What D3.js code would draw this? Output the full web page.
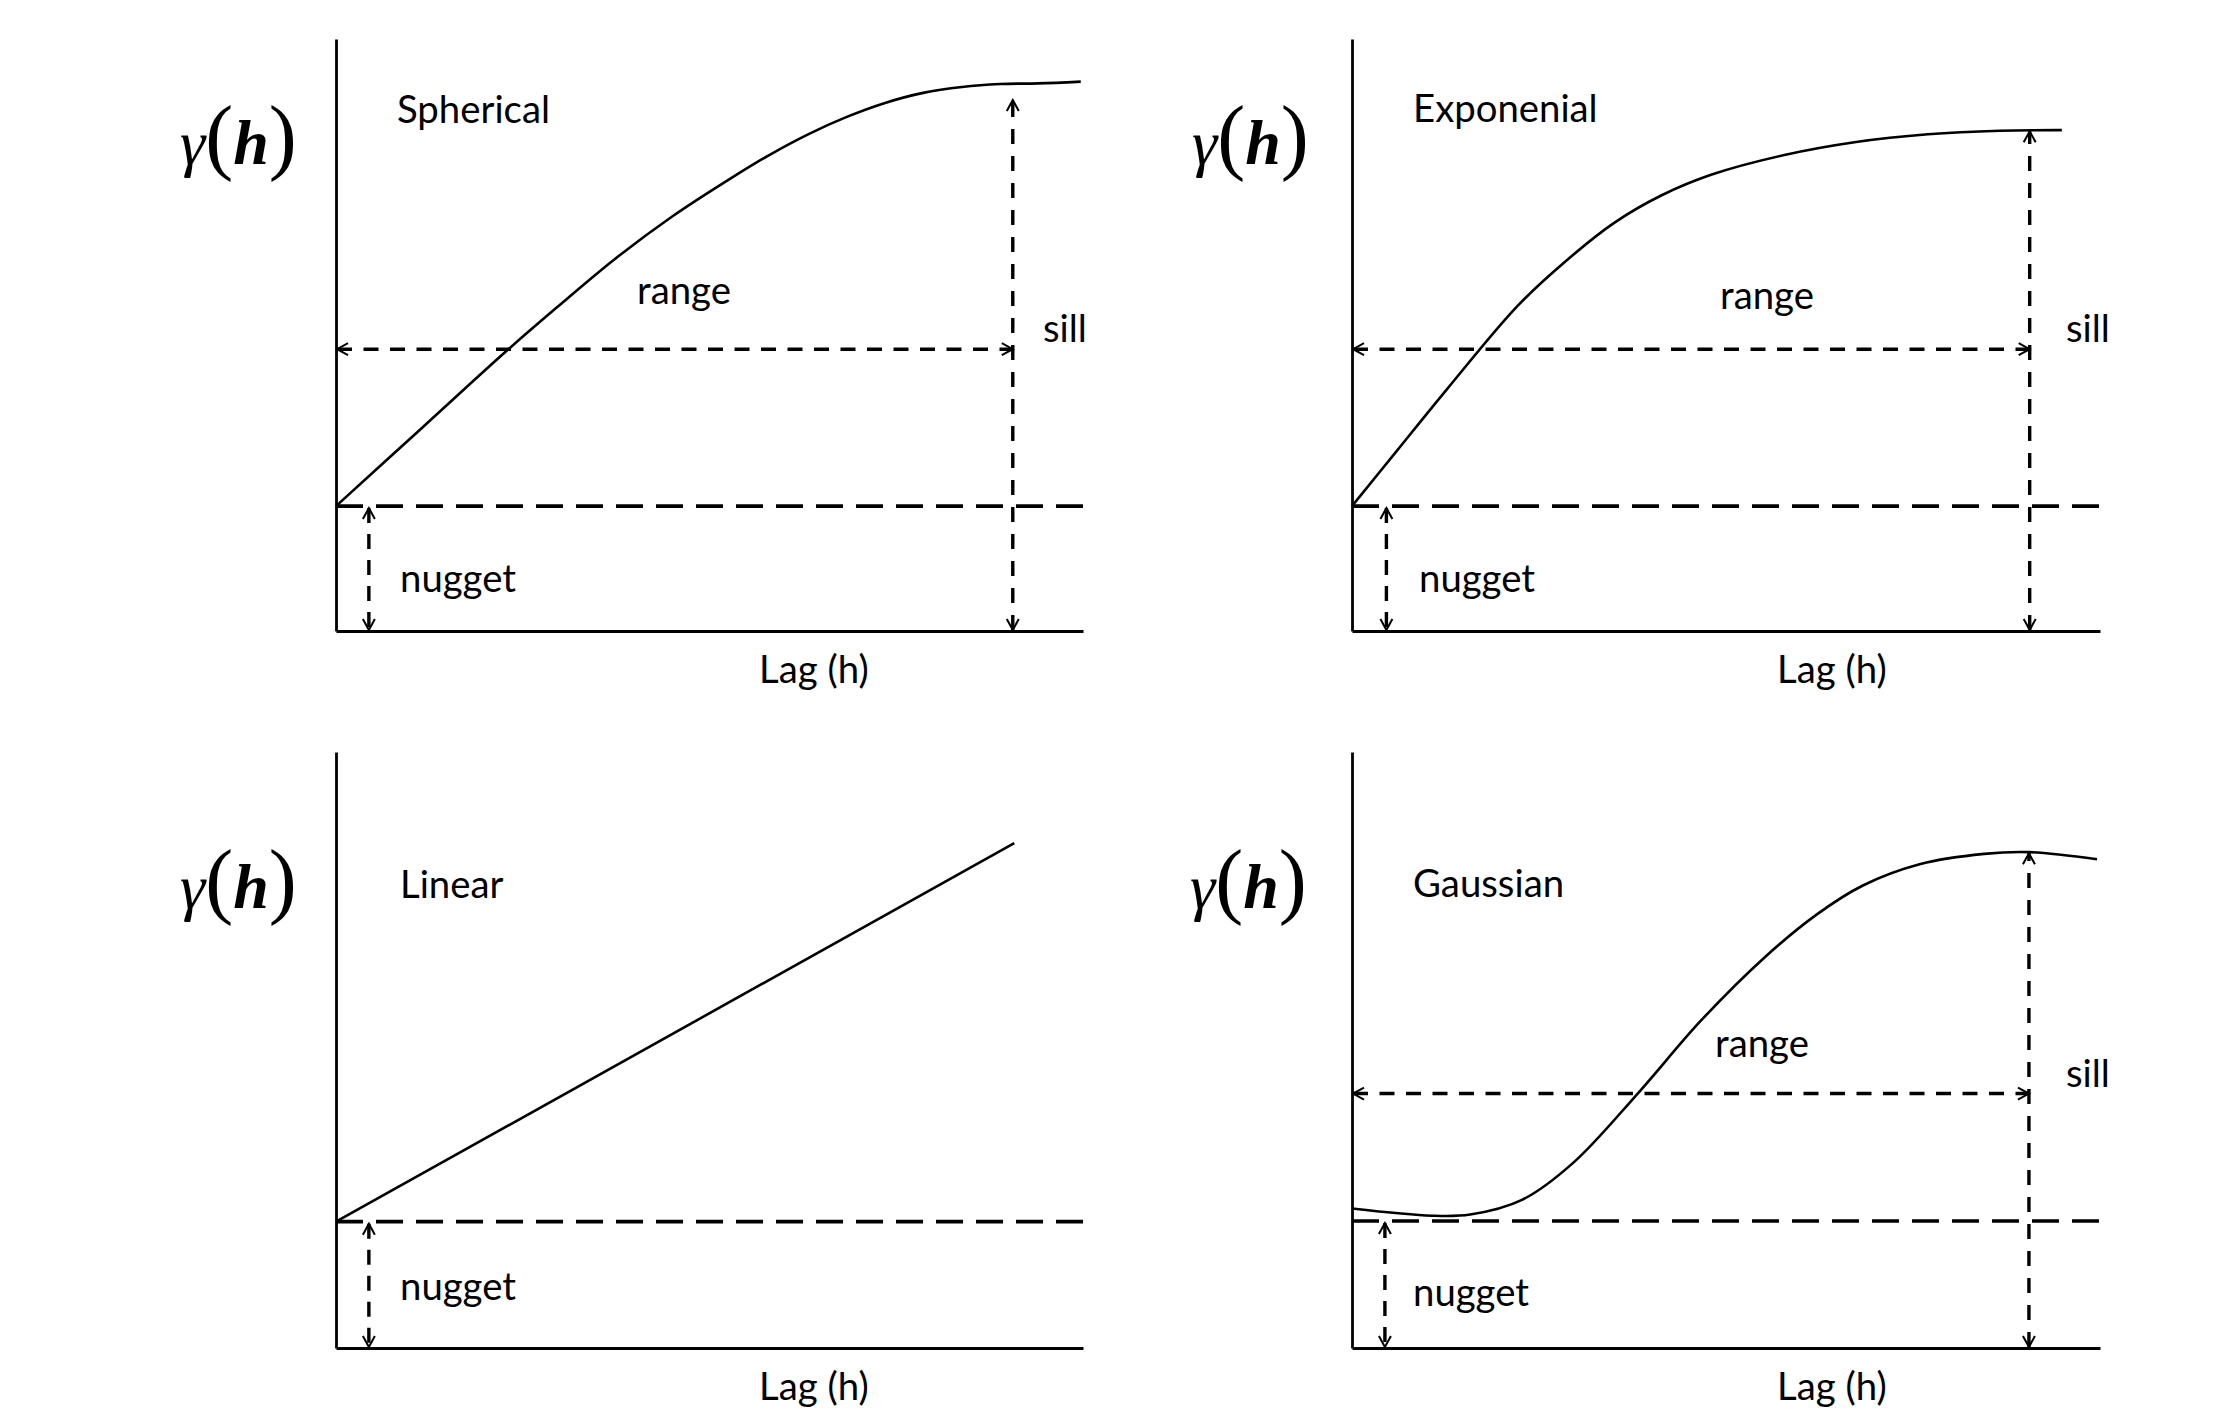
<!DOCTYPE html>
<html>
<head>
<meta charset="utf-8">
<script src="https://cdn.jsdelivr.net/npm/d3@7"></script>
<style>
  html, body { margin: 0; padding: 0; background: #ffffff; }
  svg { display: block; }
</style>
</head>
<body>
<script>
// ---------------- DATA ----------------
const modelNames = ["Spherical", "Exponenial", "Linear", "Gaussian"];

// curve points: [lag, gamma] on a 0..100 relative scale
const sphericalCurve = [[0,21.1],[11.5,34.3],[23.0,47.5],[29.7,54.8],[37.3,62.8],[45.1,70.1],[52.9,76.5],[58.0,80.4],[63.2,83.9],[68.3,86.8],[73.5,89.2],[78.6,90.9],[83.8,91.9],[88.9,92.4],[94.0,92.5],[99.7,92.8]];
const exponentialCurve = [[0,21.1],[6.1,30.6],[12.6,40.7],[22.2,55.0],[28.6,62.5],[35.0,68.9],[41.4,73.6],[48.1,77.1],[57.8,80.4],[67.4,82.6],[77.0,83.9],[86.6,84.5],[94.9,84.6]];
const linearCurve = [[0,21.2],[90.8,84.7]];
const gaussianCurve = [[0,23.4],[10.7,22.2],[15.8,22.4],[22.8,24.9],[29.6,31.1],[38.2,42.7],[46.7,55.0],[55.3,65.7],[62.2,72.8],[68.3,77.6],[76.0,81.2],[84.5,82.9],[90.5,83.2],[99.6,82.0]];

const nuggetLevel    = [21.1, 21.1, 21.2, 21.3];
const nuggetArrowLag = [4.4, 4.6, 4.4, 4.4];
const rangeLevel     = [47.6, 47.6, null, 42.7];
const sillLag        = [90.6, 90.6, null, 90.5];
const sillTop        = [89.7, 84.4, null, 83.0];

const xLabelText = "Lag (h)";
const rangeText = "range";
const sillText = "sill";
const nuggetText = "nugget";

// ---------------- LAYOUT ----------------
const W = 2230, H = 1416;
const cols = [{x0: 336, x1: 1083}, {x0: 1352, x1: 2100}];
const rows = [{y0: 631, y1: 39}, {y0: 1348, y1: 752}];
const panelLayout = [
  {col: 0, row: 0, curve: sphericalCurve, smooth: "cr",
   title: [397,123], range: [637,304], sill: [1043,342], nugget: [400,592], lag: [759,683], gamma: [180,164]},
  {col: 1, row: 0, curve: exponentialCurve, smooth: "cr",
   title: [1413,122], range: [1720,309], sill: [2066,342], nugget: [1419,592], lag: [1777,683], gamma: [1192,164]},
  {col: 0, row: 1, curve: linearCurve, smooth: "linear",
   title: [400,898], range: null, sill: null, nugget: [400,1300], lag: [759,1400], gamma: [180,908]},
  {col: 1, row: 1, curve: gaussianCurve, smooth: "cr",
   title: [1413,897], range: [1715,1057], sill: [2066,1087], nugget: [1413,1306], lag: [1777,1400], gamma: [1190,908]}
];

const svg = d3.select("body").append("svg")
  .attr("width", W).attr("height", H)
  .attr("viewBox", `0 0 ${W} ${H}`);

svg.append("rect").attr("width", W).attr("height", H).attr("fill", "#fff");

// arrow marker (open chevron)
const defs = svg.append("defs");
defs.append("marker")
  .attr("id", "arrow")
  .attr("viewBox", "-14 -8 16 16")
  .attr("refX", 0).attr("refY", 0)
  .attr("markerWidth", 16).attr("markerHeight", 16)
  .attr("markerUnits", "userSpaceOnUse")
  .attr("orient", "auto-start-reverse")
  .append("path")
  .attr("d", "M-11,-6 L0,0 L-11,6")
  .attr("fill", "none")
  .attr("stroke", "#000")
  .attr("stroke-width", 2)
  .attr("stroke-dasharray", "none");

// calibrate label font size to reference text width
const labelFont = "Lato, 'Open Sans', sans-serif";
const probe = svg.append("text").attr("font-family", labelFont).attr("font-size", 40).text("Spherical");
const probeW = probe.node().getComputedTextLength() || 160;
probe.remove();
const labelSize = 40 * 153 / probeW;

function label(g, pos, txt) {
  if (!pos) return;
  g.append("text")
    .attr("x", pos[0]).attr("y", pos[1])
    .attr("font-family", labelFont)
    .attr("font-size", labelSize)
    .attr("fill", "#000")
    .text(txt);
}

const curveTypes = {
  linear: d3.curveLinear,
  cr: d3.curveCatmullRom.alpha(0.5)
};

panelLayout.forEach((p, i) => {
  const c = cols[p.col], r = rows[p.row];
  const x = d3.scaleLinear().domain([0, 100]).range([c.x0, c.x1]);
  const y = d3.scaleLinear().domain([0, 100]).range([r.y0, r.y1]);
  const g = svg.append("g");

  // nugget dashed line
  g.append("line")
    .attr("x1", x(0)).attr("x2", x(100))
    .attr("y1", y(nuggetLevel[i])).attr("y2", y(nuggetLevel[i]))
    .attr("stroke", "#000").attr("stroke-width", 3.6)
    .attr("stroke-dasharray", "27,13");

  // nugget arrow
  g.append("line")
    .attr("x1", x(nuggetArrowLag[i])).attr("x2", x(nuggetArrowLag[i]))
    .attr("y1", y(nuggetLevel[i]) + 2).attr("y2", y(0) - 1)
    .attr("stroke", "#000").attr("stroke-width", 3.4)
    .attr("stroke-dasharray", "15,11")
    .attr("marker-start", "url(#arrow)")
    .attr("marker-end", "url(#arrow)");

  // range arrow
  if (rangeLevel[i] !== null) {
    g.append("line")
      .attr("x1", x(0) + 1).attr("x2", x(sillLag[i]))
      .attr("y1", y(rangeLevel[i])).attr("y2", y(rangeLevel[i]))
      .attr("stroke", "#000").attr("stroke-width", 3.4)
      .attr("stroke-dasharray", "15,11.5")
      .attr("marker-start", "url(#arrow)")
      .attr("marker-end", "url(#arrow)");
  }
  // sill arrow
  if (sillLag[i] !== null) {
    g.append("line")
      .attr("x1", x(sillLag[i])).attr("x2", x(sillLag[i]))
      .attr("y1", y(0) - 1).attr("y2", y(sillTop[i]))
      .attr("stroke", "#000").attr("stroke-width", 3.4)
      .attr("stroke-dasharray", "15,12")
      .attr("marker-start", "url(#arrow)")
      .attr("marker-end", "url(#arrow)");
  }

  // model curve
  const line = d3.line()
    .x(d => x(d[0])).y(d => y(d[1]))
    .curve(curveTypes[p.smooth]);
  g.append("path")
    .datum(p.curve)
    .attr("d", line)
    .attr("fill", "none")
    .attr("stroke", "#000")
    .attr("stroke-width", 2.6);

  // axes (no ticks)
  const xAxis = g.append("g").attr("transform", `translate(0,${y(0)})`)
    .call(d3.axisBottom(x).tickValues([]).tickSizeOuter(0));
  const yAxis = g.append("g").attr("transform", `translate(${x(0)},0)`)
    .call(d3.axisLeft(y).tickValues([]).tickSizeOuter(0));
  [xAxis, yAxis].forEach(a => a.select(".domain").attr("stroke", "#000").attr("stroke-width", 2.8));

  // labels
  label(g, p.title, modelNames[i]);
  if (rangeLevel[i] !== null) label(g, p.range, rangeText);
  if (sillLag[i] !== null) label(g, p.sill, sillText);
  label(g, p.nugget, nuggetText);
  label(g, p.lag, xLabelText);

  // gamma(h)
  const gt = g.append("text")
    .attr("x", p.gamma[0]).attr("y", p.gamma[1])
    .attr("font-family", "'Liberation Serif', 'DejaVu Serif', serif")
    .attr("font-size", 64)
    .attr("fill", "#000");
  gt.append("tspan").attr("font-style", "italic").text("γ");
  gt.append("tspan").attr("font-size", 84).text("(");
  gt.append("tspan").attr("font-style", "italic").attr("font-weight", "bold").text("h");
  gt.append("tspan").attr("font-size", 84).text(")");
});
</script>
</body>
</html>
